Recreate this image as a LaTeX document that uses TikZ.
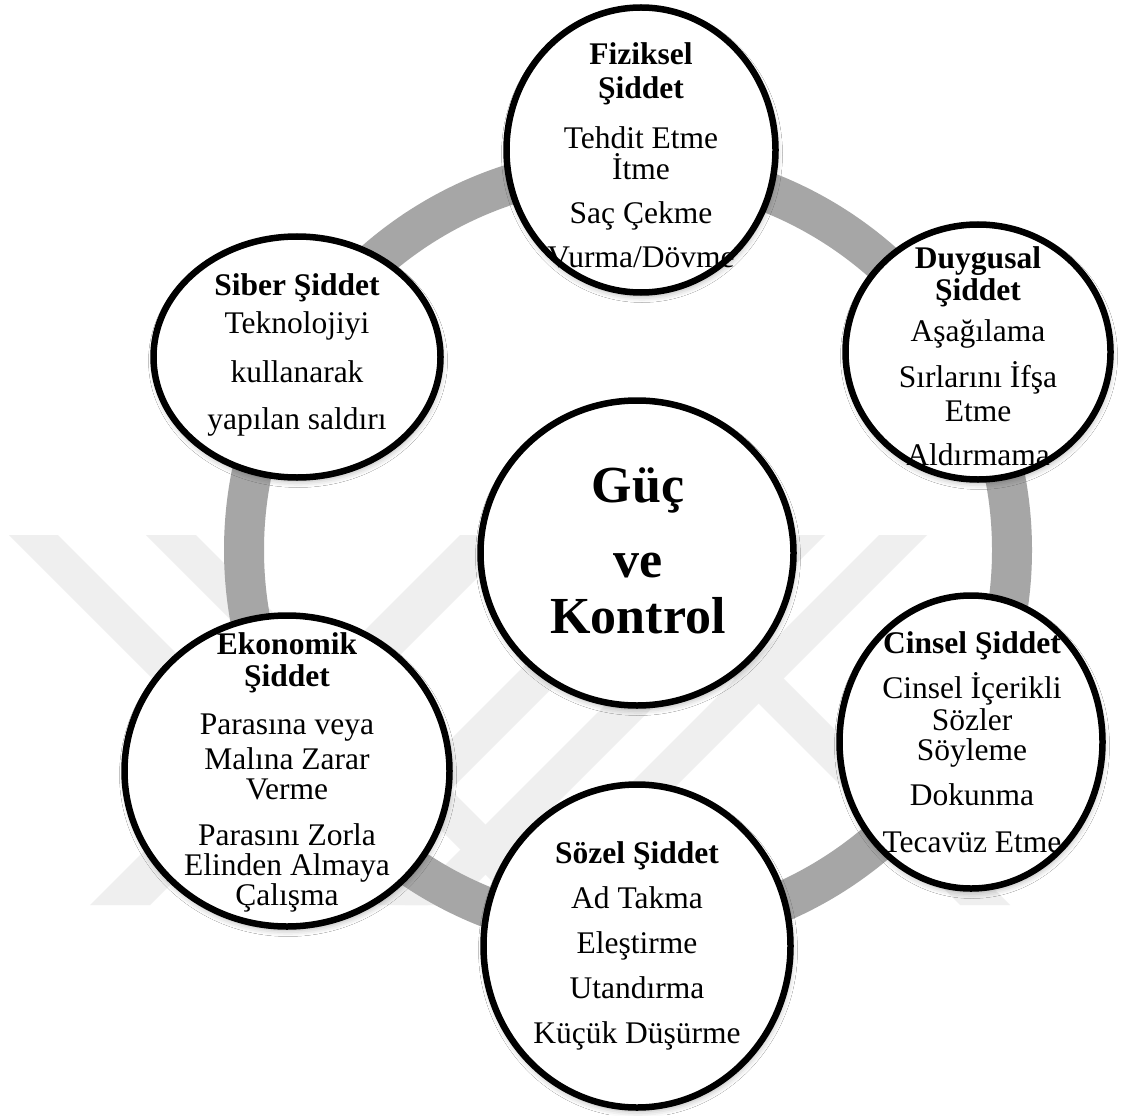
\documentclass[tikz,border=0pt]{standalone}
\usepackage{fontspec}
\setmainfont{Liberation Serif}
\usetikzlibrary{shapes.geometric,shadows.blur}
\definecolor{ringgray}{HTML}{A6A6A6}
\definecolor{markgray}{HTML}{EFEFEF}
\begin{document}
\begin{tikzpicture}[x=1pt,y=-1pt,
  bubble/.style={ellipse, draw=black, line width=6.5pt, fill=white,
    inner sep=0pt, outer sep=0pt,
    blur shadow={shadow xshift=1pt, shadow yshift=-4pt,
      shadow blur radius=6pt, shadow opacity=30}},
  txt/.style={anchor=base, inner sep=0pt, font=\fontsize{31.5}{31.5}\selectfont},
  hd/.style={anchor=base, inner sep=0pt, font=\fontsize{31.5}{31.5}\selectfont\bfseries},
  big/.style={anchor=base, inner sep=0pt, font=\fontsize{52}{52}\selectfont\bfseries}]
\useasboundingbox[fill=white] (0,0) rectangle (1123,1115);

% faint crossed bands in the background
\foreach \a/\b in {-526/-477, -389/-339, 55/105}
  \fill[markgray] ({535+(\a)},535) -- ({535+(\b)},535) -- ({905+(\b)},905) -- ({905+(\a)},905) -- cycle;
\foreach \a/\b in {1414/1462, 1310/1360, 995/1055, 1190/1240}
  \fill[markgray] ({\a-535},535) -- ({\b-535},535) -- ({\b-905},905) -- ({\a-905},905) -- cycle;

% grey cycle ring
\draw[ringgray, line width=40pt] (628,550) circle[radius=384pt];

% bubbles (sizes measured along the stroke centre line)
\node[bubble, minimum width=313pt, minimum height=305pt] (guc) at (637,553) {};
\node[bubble, minimum width=269pt, minimum height=285pt] (fiz) at (641,150) {};
\node[bubble, minimum width=265pt, minimum height=255pt] (duy) at (978,352) {};
\node[bubble, minimum width=263pt, minimum height=293pt] (cin) at (971,742) {};
\node[bubble, minimum width=307pt, minimum height=323pt] (soz) at (637,946) {};
\node[bubble, minimum width=325pt, minimum height=311pt] (eko) at (287,771) {};
\node[bubble, minimum width=287pt, minimum height=241pt] (sib) at (297,357) {};

% centre
\foreach \y/\t [count=\i] in {502/Güç, 577/ve, 633/Kontrol}
  \node[big] (guc-\i) at (638,\y) {\t};

% physical
\foreach \y/\t [count=\i] in {65/Fiziksel, 99/Şiddet}
  \node[hd] (fiz-h\i) at (641,\y) {\t};
\foreach \y/\t [count=\i] in {149/Tehdit Etme, 180/İtme, 223/Saç Çekme, 267/{Vurma/Dövme}}
  \node[txt] (fiz-\i) at (641,\y) {\t};

% emotional
\foreach \y/\t [count=\i] in {268/Duygusal, 300/Şiddet}
  \node[hd] (duy-h\i) at (978,\y) {\t};
\foreach \y/\t [count=\i] in {341/Aşağılama, 387/Sırlarını İfşa, 421/Etme, 465/Aldırmama}
  \node[txt] (duy-\i) at (978,\y) {\t};

% sexual
\node[hd] (cin-h1) at (972,653) {Cinsel Şiddet};
\foreach \y/\t [count=\i] in {698/Cinsel İçerikli, 730/Sözler, 760/Söyleme, 805/Dokunma, 852/Tecavüz Etme}
  \node[txt] (cin-\i) at (972,\y) {\t};

% verbal
\node[hd] (soz-h1) at (637,863) {Sözel Şiddet};
\foreach \y/\t [count=\i] in {908/Ad Takma, 953/Eleştirme, 998/Utandırma, 1043/Küçük Düşürme}
  \node[txt] (soz-\i) at (637,\y) {\t};

% economic
\foreach \y/\t [count=\i] in {654/Ekonomik, 686/Şiddet}
  \node[hd] (eko-h\i) at (287,\y) {\t};
\foreach \y/\t [count=\i] in {734/Parasına veya, 769/Malına Zarar, 799/Verme, 845/Parasını Zorla, 875/Elinden Almaya, 905/Çalışma}
  \node[txt] (eko-\i) at (287,\y) {\t};

% cyber
\node[hd] (sib-h1) at (297,295) {Siber Şiddet};
\foreach \y/\t [count=\i] in {333/Teknolojiyi, 382/kullanarak, 429/yapılan saldırı}
  \node[txt] (sib-\i) at (297,\y) {\t};
\end{tikzpicture}
\end{document}
